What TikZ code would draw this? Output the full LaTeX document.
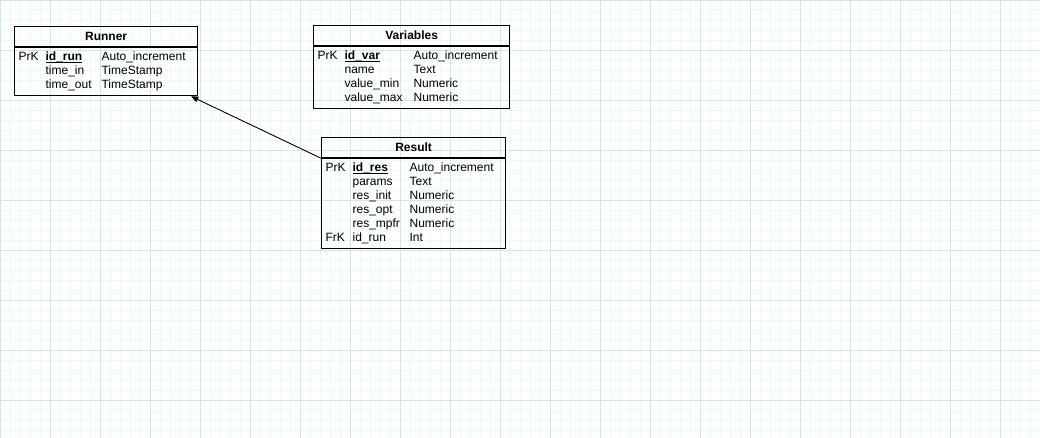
\documentclass[tikz,border=0pt]{standalone}
\usepackage{fontspec}
\setmainfont{Liberation Sans}
\usepackage{array}
\usetikzlibrary{positioning,arrows.meta}
\definecolor{gridminor}{RGB}{238,248,248}
\definecolor{gridmajor}{RGB}{216,228,228}
\setlength{\tabcolsep}{0pt}
% bold, underlined key name
\newcommand{\pkname}[1]{\leavevmode\setbox0\hbox{\textbf{#1}}\rlap{\rule[-2pt]{\wd0}{1pt}}\box0}

\tikzset{
  tblhead/.style={draw, line width=1.2pt, anchor=north west, inner sep=0pt,
    minimum height=20, font=\fontsize{12}{14}\selectfont\bfseries},
  tblbody/.style={draw, line width=1.2pt, inner xsep=4pt, inner ysep=3pt,
    font=\fontsize{12}{14}\selectfont},
}

\begin{document}
\begin{tikzpicture}[x=1pt,y=-1pt]
            \useasboundingbox (0,0) rectangle (1040,438);
            \fill[white] (0,0) rectangle (1040,438);
            \draw[gridminor, line width=0.6pt] (0,0) grid[step=10pt] (1040,438);
            \draw[gridmajor, line width=0.8pt] (0,0) grid[step=50pt] (1040,438);

            % Runner
            \node[tblhead, minimum width=183] (runhead) at (14,26) {Runner};
            \node[tblbody, below right=0pt and 0pt of runhead.south west] (runbody) {%
              \begin{tabular}{p{27pt}p{56pt}p{92pt}}
                PrK & \pkname{id\_run} & Auto\_increment\\
                    & time\_in & TimeStamp\\
                    & time\_out & TimeStamp
              \end{tabular}};

            % Variables
            \node[tblhead, minimum width=196] (varhead) at (313,25) {Variables};
            \node[tblbody, below right=0pt and 0pt of varhead.south west] (varbody) {%
              \begin{tabular}{p{27pt}p{69pt}p{92pt}}
                PrK & \pkname{id\_var} & Auto\_increment\\
                    & name & Text\\
                    & value\_min & Numeric\\
                    & value\_max & Numeric
              \end{tabular}};

            % Result
            \node[tblhead, minimum width=184] (reshead) at (321,137) {Result};
            \node[tblbody, below right=0pt and 0pt of reshead.south west] (resbody) {%
              \begin{tabular}{p{27pt}p{57pt}p{92pt}}
                PrK & \pkname{id\_res} & Auto\_increment\\
                    & params & Text\\
                    & res\_init & Numeric\\
                    & res\_opt & Numeric\\
                    & res\_mpfr & Numeric\\
                FrK & id\_run & Int
              \end{tabular}};

            \draw[-{Triangle[length=7pt,width=6pt]}, line width=0.9pt]
              (reshead.south west) -- ([xshift=-7pt]runbody.south east);
\end{tikzpicture}
\end{document}
